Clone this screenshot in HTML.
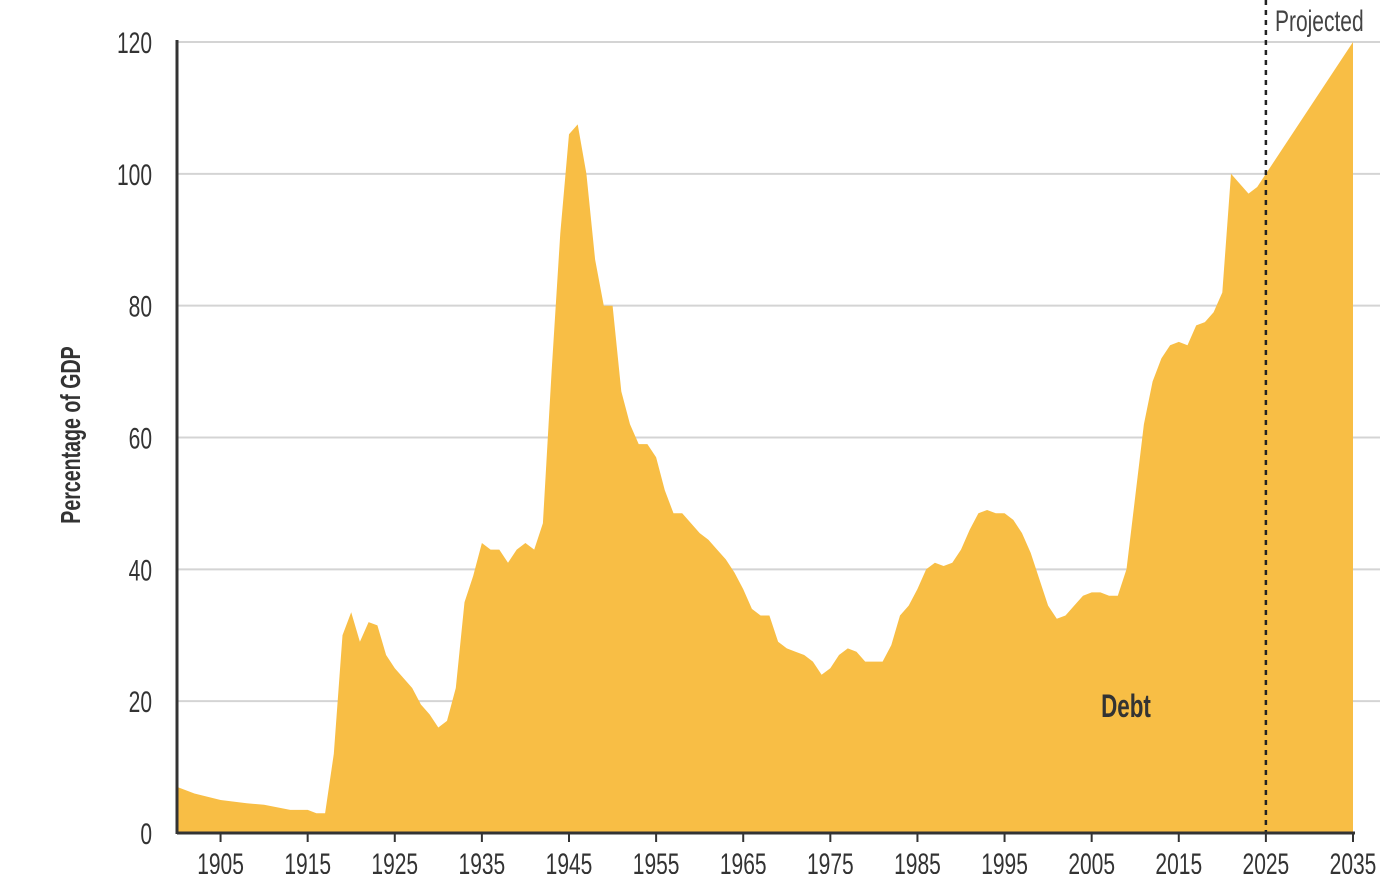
<!DOCTYPE html>
<html><head><meta charset="utf-8"><style>
html,body{margin:0;padding:0;background:#fff;}
svg text{font-family:"Liberation Sans",sans-serif;}
</style></head><body>
<svg width="1400" height="874" viewBox="0 0 1400 874" id="chart">
</svg>
<script>
const years=[1900,1902,1905,1908,1910,1913,1915,1916,1917,1918,1919,1920,1921,1922,1923,1924,1925,1927,1928,1929,1930,1931,1932,1933,1934,1935,1936,1937,1938,1939,1940,1941,1942,1943,1944,1945,1946,1947,1948,1949,1950,1951,1952,1953,1954,1955,1956,1957,1958,1959,1960,1961,1962,1963,1964,1965,1966,1967,1968,1969,1970,1971,1972,1973,1974,1975,1976,1977,1978,1979,1980,1981,1982,1983,1984,1985,1986,1987,1988,1989,1990,1991,1992,1993,1994,1995,1996,1997,1998,1999,2000,2001,2002,2003,2004,2005,2006,2007,2008,2009,2010,2011,2012,2013,2014,2015,2016,2017,2018,2019,2020,2021,2022,2023,2024,2025,2035];
const debt=[7,6,5,4.5,4.3,3.5,3.5,3,3,12,30,33.5,29,32,31.5,27,25,22,19.5,18,16,17,22,35,39,44,43,43,41,43,44,43,47,70,91,106,107.5,100,87,80,80,67,62,59,59,57,52,48.5,48.5,47,45.5,44.5,43,41.5,39.5,37,34,33,33,29,28,27.5,27,26,24,25,27,28,27.5,26,26,26,28.5,33,34.5,37,40,41,40.5,41,43,46,48.5,49,48.5,48.5,47.5,45.5,42.5,38.5,34.5,32.5,33,34.5,36,36.5,36.5,36,36,40,51,62,68.5,72,74,74.5,74,77,77.5,79,82,100,98.5,97,98,100,120];
const yTicks=[0,20,40,60,80,100,120];
const xTicks=[1905,1915,1925,1935,1945,1955,1965,1975,1985,1995,2005,2015,2025,2035];
const projYear=2025;

const NS="http://www.w3.org/2000/svg";
const svg=document.getElementById('chart');
const X=y=>177+(y-1900)*(1176/135);
const Y=v=>833-v*(791/120);
function mk(t,a){const e=document.createElementNS(NS,t);for(const k in a)e.setAttribute(k,a[k]);svg.appendChild(e);return e;}

yTicks.forEach(v=>{
  if(v>0){const g=mk('line',{x1:177,x2:1380,y1:Y(v),y2:Y(v),stroke:'#d4d4d4','stroke-width':2});
  
  }
  const t=mk('text',{x:152,y:Y(v)+11,'text-anchor':'end','font-size':30,fill:'#333',transform:`translate(${152*0.3},0) scale(0.7,1)`});
  t.setAttribute('x',152/0.7*0.7);
  t.setAttribute('transform',`scale(0.7,1)`);
  t.setAttribute('x',152/0.7);
  t.textContent=v;
  
  
});

let d=`M${X(years[0])},${Y(0)}`;
years.forEach((yr,i)=>{d+=`L${X(yr).toFixed(1)},${Y(debt[i]).toFixed(1)}`;});
d+=`L${X(years[years.length-1])},${Y(0)}Z`;
const area=mk('path',{d:d,fill:'#F8BE45'});



const pl=mk('line',{x1:X(projYear),x2:X(projYear),y1:0,y2:833,stroke:'#222','stroke-width':2.5,'stroke-dasharray':'5,5'});



const ax=mk('line',{x1:177,x2:1355,y1:833,y2:833,stroke:'#333','stroke-width':3});


const ay=mk('line',{x1:177,x2:177,y1:40,y2:834,stroke:'#333','stroke-width':3});



xTicks.forEach(yr=>{
  const tk=mk('line',{x1:X(yr),x2:X(yr),y1:833,y2:842,stroke:'#333','stroke-width':2});
  
  
  const t=mk('text',{x:X(yr)/0.7,y:874,'text-anchor':'middle','font-size':30,fill:'#333',transform:'scale(0.7,1)'});
  t.textContent=yr;
  
  
});

const yt=mk('text',{x:0,y:0,'text-anchor':'middle','font-size':28,'font-weight':'bold',fill:'#333',transform:'translate(80,435) rotate(-90) scale(0.7,1)'});
yt.textContent='Percentage of GDP';



const pj=mk('text',{x:1275/0.7,y:31,'font-size':30,fill:'#444',transform:'scale(0.7,1)'});
pj.textContent='Projected';



const db=mk('text',{x:1126/0.7,y:717,'text-anchor':'middle','font-size':32,'font-weight':'bold',fill:'#333',transform:'scale(0.7,1)'});
db.textContent='Debt';


</script>
</body></html>
